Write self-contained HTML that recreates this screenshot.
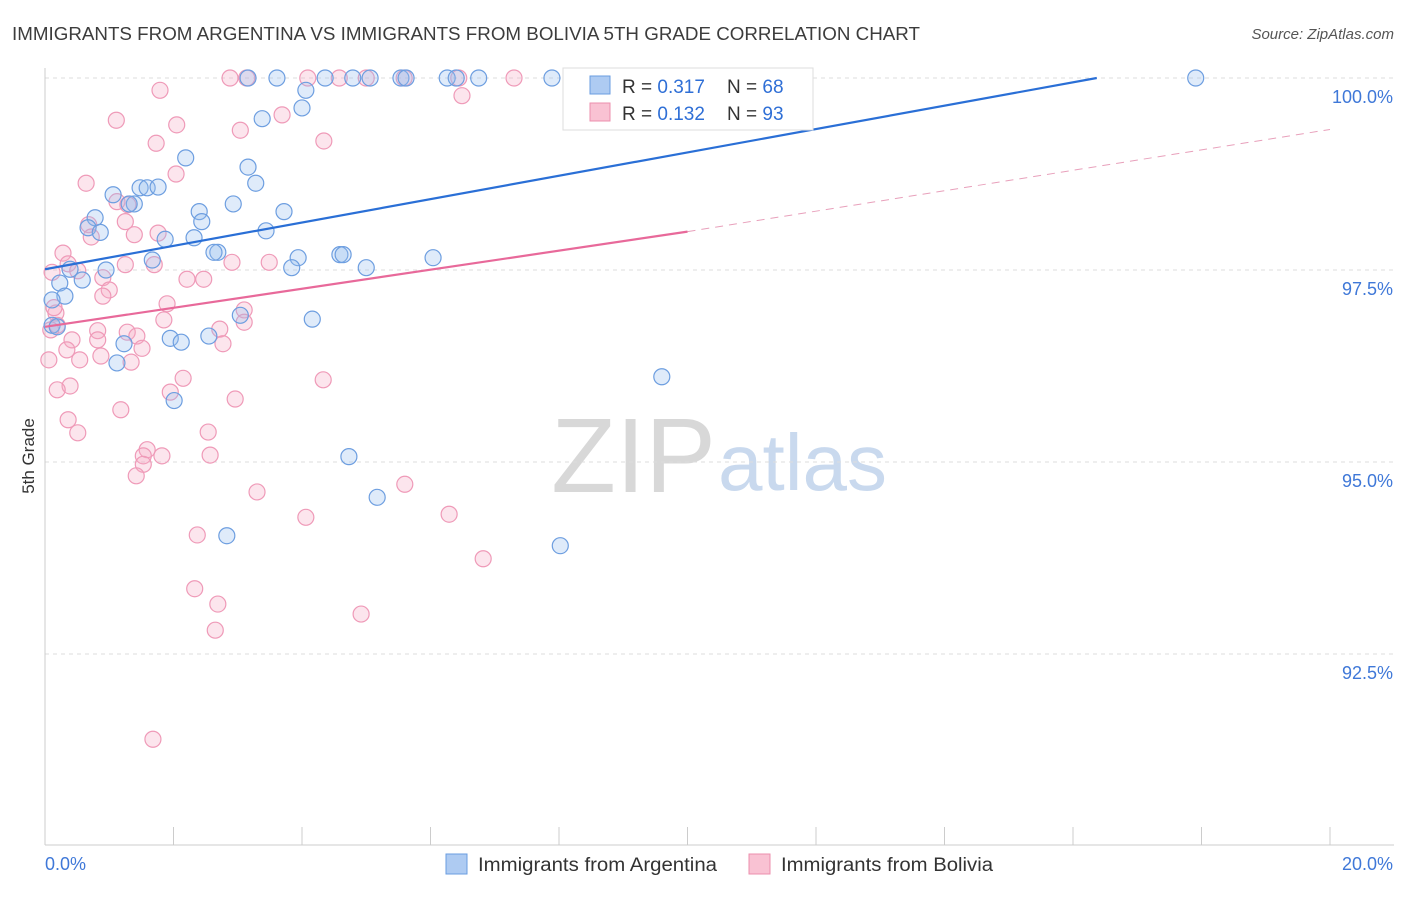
<!DOCTYPE html>
<html><head><meta charset="utf-8">
<style>
body{margin:0;background:#fff;font-family:"Liberation Sans",sans-serif;}
svg text{font-family:"Liberation Sans",sans-serif;}
</style></head>
<body>
<svg id="chart" width="1406" height="892" xmlns="http://www.w3.org/2000/svg">
<text x="12" y="40" font-size="18" fill="#3c3c3c" textLength="908" lengthAdjust="spacingAndGlyphs">IMMIGRANTS FROM ARGENTINA VS IMMIGRANTS FROM BOLIVIA 5TH GRADE CORRELATION CHART</text>
<text x="1394" y="39" font-size="15" fill="#555" text-anchor="end" font-style="italic">Source: ZipAtlas.com</text>
<text x="716" y="492" font-size="106" text-anchor="end" fill="#d8d8d8" font-family="Liberation Serif">ZIP</text>
<text x="718" y="490" font-size="80" fill="#c9d9ee">atlas</text>
<g id="grid"></g>
<g id="axes"></g>
<g id="pts"></g>
<g id="lines"></g>
<text transform="translate(34,456) rotate(-90)" font-size="17" fill="#333" text-anchor="middle">5th Grade</text>
<g>
<rect x="563" y="68" width="250" height="62" fill="#fff" stroke="#ddd"/>
<rect x="590" y="76" width="20" height="18" fill="#aecbf2" stroke="#6a9de0"/>
<rect x="590" y="103" width="20" height="18" fill="#f9c2d3" stroke="#ec8fae"/>
<text x="622" y="93" font-size="19" fill="#333">R = <tspan fill="#2f6fd6">0.317</tspan></text>
<text x="727" y="93" font-size="19" fill="#333">N = <tspan fill="#2f6fd6">68</tspan></text>
<text x="622" y="120" font-size="19" fill="#333">R = <tspan fill="#2f6fd6">0.132</tspan></text>
<text x="727" y="120" font-size="19" fill="#333">N = <tspan fill="#2f6fd6">93</tspan></text>
</g>
<g>
<rect x="446" y="854" width="21" height="20" fill="#aecbf2" stroke="#6a9de0"/>
<text x="478" y="871" font-size="19" fill="#333" textLength="239" lengthAdjust="spacingAndGlyphs">Immigrants from Argentina</text>
<rect x="749" y="854" width="21" height="20" fill="#f9c2d3" stroke="#ec8fae"/>
<text x="781" y="871" font-size="19" fill="#333" textLength="212" lengthAdjust="spacingAndGlyphs">Immigrants from Bolivia</text>
</g>
</svg>
<script>
const yTicks=[100,97.5,95,92.5];
const yTickLabels=["100.0%","97.5%","95.0%","92.5%"];
const xTickVals=[0,2,4,6,8,10,12,14,16,18,20];
const xEndLabels=["0.0%","20.0%"];
const argX=[3.16,3.61,4.36,4.79,5.06,5.54,5.62,6.26,6.40,6.75,7.89,8.19,8.95,17.91,4.06,4.00,3.38,10.83,2.19,3.16,3.28,1.06,1.48,1.59,1.76,1.39,1.31,2.93,2.40,3.72,2.44,0.78,0.67,0.86,3.44,1.87,2.32,2.69,2.63,3.94,4.59,4.64,1.67,3.84,5.00,6.04,0.39,0.95,0.58,0.23,0.31,0.11,0.11,0.19,4.16,3.04,2.55,1.95,2.12,1.23,1.12,9.60,2.01,4.73,5.17,2.83,8.02];
const argY=[100,100,100,100,100,100,100,100,100,100,100,100,100,100,99.84,99.61,99.47,99.43,98.96,98.84,98.63,98.48,98.57,98.57,98.58,98.36,98.36,98.36,98.26,98.26,98.13,98.18,98.05,97.99,98.01,97.90,97.92,97.73,97.73,97.66,97.70,97.70,97.63,97.53,97.53,97.66,97.51,97.50,97.37,97.33,97.16,97.11,96.78,96.76,96.86,96.91,96.64,96.61,96.56,96.54,96.29,96.11,95.80,95.07,94.54,94.04,93.91];
const bolX=[2.88,3.14,4.09,4.58,5.00,5.59,6.44,7.30,1.79,6.49,1.11,2.05,3.69,3.04,1.73,4.34,0.64,2.04,1.12,1.29,0.68,0.72,1.25,1.39,1.76,0.28,0.36,0.51,0.11,1.25,1.70,2.91,3.49,0.90,1.00,0.90,2.21,2.47,1.90,0.17,0.14,3.10,0.19,0.09,1.85,3.10,2.72,0.82,1.28,1.43,0.82,0.42,0.34,2.77,1.51,0.06,0.54,0.87,1.34,2.15,4.33,0.39,0.19,1.95,2.96,1.18,0.36,0.51,2.54,1.59,1.53,1.82,2.57,1.53,1.42,3.30,5.60,4.06,6.29,2.37,6.82,2.33,2.69,4.92,2.65,1.68];
const bolY=[100,100,100,100,100,100,100,100,99.84,99.77,99.45,99.39,99.52,99.32,99.15,99.18,98.63,98.75,98.39,98.35,98.09,97.93,98.13,97.96,97.98,97.72,97.58,97.49,97.47,97.57,97.57,97.60,97.60,97.40,97.24,97.16,97.38,97.38,97.06,96.94,97.01,96.98,96.78,96.72,96.85,96.82,96.73,96.71,96.69,96.64,96.59,96.59,96.46,96.54,96.48,96.33,96.33,96.38,96.30,96.09,96.07,95.99,95.94,95.91,95.82,95.68,95.55,95.38,95.39,95.16,95.08,95.08,95.09,94.97,94.82,94.61,94.71,94.28,94.32,94.05,93.74,93.35,93.15,93.02,92.81,91.39];
const argTrendX=[0,16.37];
const argTrendY=[97.51,100];
const bolTrendX=[0,10,20];
const bolTrendY=[96.76,98.0,99.33];

const NS="http://www.w3.org/2000/svg";
const X0=45,X1=1330,Yat100=78,pxPerPct=76.8;
function sx(v){return X0+(X1-X0)*v/20;}
function sy(v){return Yat100+(100-v)*pxPerPct;}
function mk(tag,attrs,parent){const e=document.createElementNS(NS,tag);for(const k in attrs)e.setAttribute(k,attrs[k]);parent.appendChild(e);return e;}
const grid=document.getElementById('grid'),axes=document.getElementById('axes'),pts=document.getElementById('pts'),lines=document.getElementById('lines');
yTicks.forEach((t,i)=>{
  const l=mk('line',{x1:X0,x2:1394,y1:sy(t),y2:sy(t),stroke:'#ddd','stroke-dasharray':'4,4'},grid);
  
  
  const tx=mk('text',{x:1393,y:sy(t)+25,'font-size':18,fill:'#3f78d8','text-anchor':'end'},grid);
  tx.textContent=yTickLabels[i];
  
  
});
const ax=mk('line',{x1:X0,x2:X0,y1:68,y2:845,stroke:'#ccc'},axes);


const bx=mk('line',{x1:X0,x2:1394,y1:845,y2:845,stroke:'#ccc'},axes);


xTickVals.forEach(v=>{
  const t=mk('line',{x1:sx(v),x2:sx(v),y1:827,y2:845,stroke:'#ccc'},axes);
  
  
});
const l0=mk('text',{x:45,y:870,'font-size':18,fill:'#3f78d8'},axes);l0.textContent=xEndLabels[0];


const l1=mk('text',{x:1393,y:870,'font-size':18,fill:'#3f78d8','text-anchor':'end'},axes);l1.textContent=xEndLabels[1];


bolX.forEach((x,i)=>{
  const c=mk('circle',{cx:sx(x),cy:sy(bolY[i]),r:8,fill:'rgba(246,170,196,0.3)',stroke:'#ef9ab8','stroke-width':1.2},pts);
  
  
});
argX.forEach((x,i)=>{
  const c=mk('circle',{cx:sx(x),cy:sy(argY[i]),r:8,fill:'rgba(150,188,238,0.3)',stroke:'#6d9ee0','stroke-width':1.2},pts);
  
  
});
const bl=mk('line',{x1:sx(argTrendX[0]),y1:sy(argTrendY[0]),x2:sx(argTrendX[1]),y2:sy(argTrendY[1]),stroke:'#2a6fd6','stroke-width':2.2},lines);


const pl=mk('line',{x1:sx(bolTrendX[0]),y1:sy(bolTrendY[0]),x2:sx(bolTrendX[1]),y2:sy(bolTrendY[1]),stroke:'#e8699a','stroke-width':2.2},lines);


const pd=mk('line',{x1:sx(bolTrendX[1]),y1:sy(bolTrendY[1]),x2:sx(bolTrendX[2]),y2:sy(bolTrendY[2]),stroke:'#e8a0bb','stroke-width':1,'stroke-dasharray':'8,6'},lines);


</script>
</body></html>
